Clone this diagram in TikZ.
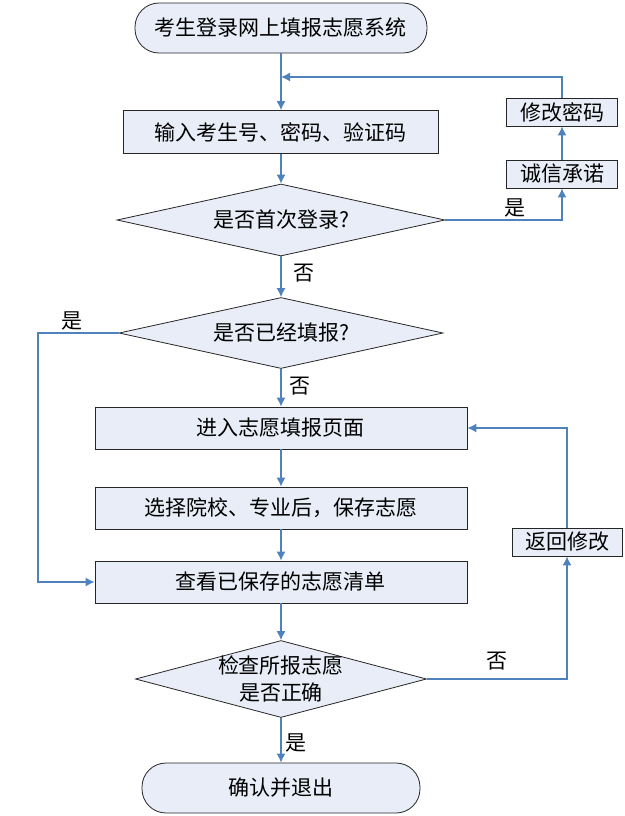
\documentclass[tikz,border=0pt]{standalone}
\usepackage{fontspec}
\setmainfont{Noto Sans CJK SC}
\usetikzlibrary{shapes.geometric, arrows.meta}
\definecolor{boxfill}{RGB}{232,237,247}
\definecolor{flowline}{RGB}{79,129,189}
\tikzstyle{terminal} = [draw=black!85, fill=boxfill, rectangle, rounded corners=12pt, minimum width=139pt, minimum height=25pt, inner sep=0pt]
\tikzstyle{process} = [draw=black!85, fill=boxfill, rectangle, minimum width=186pt, minimum height=21pt, inner sep=0pt]
\tikzstyle{sidebox} = [draw=black!85, fill=boxfill, rectangle, minimum width=55.5pt, minimum height=14pt, inner sep=0pt]
\tikzstyle{decision} = [draw=black!85, fill=boxfill, diamond, aspect=4.5, inner sep=0pt]
\tikzstyle{flow} = [draw=flowline, line width=0.65pt, -{Latex[length=4.5pt,width=4.5pt]}]
\tikzstyle{answer} = [inner sep=1pt]

\begin{document}
\begin{tikzpicture}[x=0.5pt, y=-0.5pt, font=\fontsize{10.5}{13.5}\selectfont]
	\useasboundingbox (0,0) rectangle (625,816);
	% main column
	\node[terminal, minimum width=146pt] (start) at (281,28) {考生登录网上填报志愿系统};
	\node[process, minimum width=157.5pt, minimum height=21.5pt] (login) at (281,132) {输入考生号、密码、验证码};
	\node[decision, minimum width=164pt, minimum height=36pt] (first) at (281,220) {是否首次登录?};
	\node[decision, minimum width=162pt, minimum height=35.5pt] (done) at (281,333) {是否已经填报?};
	\node[process] (page) at (281,428) {进入志愿填报页面};
	\node[process] (pick) at (281,508) {选择院校、专业后，保存志愿};
	\node[process] (list) at (281,582) {查看已保存的志愿清单};
	\node[decision, aspect=3.8, minimum width=145.5pt, minimum height=38.5pt] (check) at (281,679) {};
	\node[align=center, inner sep=0pt] at (check) {检查所报志愿\\是否正确};
	\node[terminal] (quit) at (281,788) {确认并退出};
	% side boxes
	\node[sidebox] (pwd) at (562,112) {修改密码};
	\node[sidebox] (promise) at (562,174) {诚信承诺};
	\node[sidebox, minimum width=55pt] (back) at (567,542) {返回修改};
	\coordinate (join) at (281,77);
	\coordinate (lft) at (38,333);

	\draw[flow] (start) -- (login);
	\draw[flow] (login) -- (first);
	\draw[flow] (first.east) -| node[answer, pos=0.3, above] {是} (promise.south);
	\draw[flow] (promise) -- (pwd);
	\draw[flow] (pwd.north) |- (join);
	\draw[flow] (first.south) -- node[answer, pos=0.4, right=5pt] {否} (done.north);
	\draw[flow] (done.west) -- node[answer, pos=0.58, above=0pt] {是} (lft) |- (list.west);
	\draw[flow] (done.south) -- node[answer, pos=0.46, right=3pt] {否} (page.north);
	\draw[flow] (page) -- (pick);
	\draw[flow] (pick) -- (list);
	\draw[flow] (list) -- (check);
	\draw[flow] (check.east) -| node[answer, pos=0.25, above=3pt] {否} (back.south);
	\draw[flow] (back.north) |- (page.east);
	\draw[flow] (check.south) -- node[answer, pos=0.55, right=1pt] {是} (quit.north);
\end{tikzpicture}
\end{document}
